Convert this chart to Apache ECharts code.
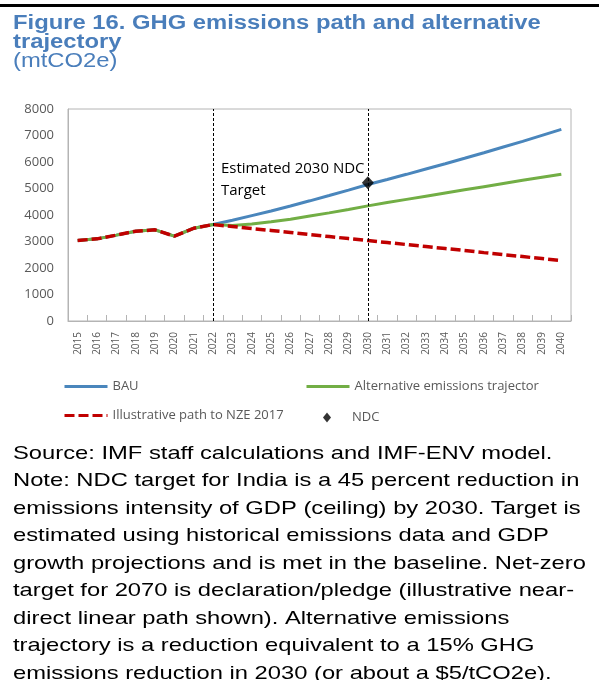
<!DOCTYPE html>
<html>
<head>
<meta charset="utf-8">
<title>GHG emissions path and alternative trajectory</title>
<script src="https://cdn.jsdelivr.net/npm/echarts@6/dist/echarts.min.js"></script>
<style>
  html, body { margin: 0; padding: 0; background: #fff; }
  #chart { width: 599px; height: 680px; }
</style>
</head>
<body>
<div id="chart"></div>
<script>
const years = ['2015', '2016', '2017', '2018', '2019', '2020', '2021', '2022', '2023', '2024', '2025', '2026', '2027',
  '2028', '2029', '2030', '2031', '2032', '2033', '2034', '2035', '2036', '2037', '2038', '2039', '2040']
const bauValues = [3040, 3100, 3240, 3390, 3440, 3200, 3500, 3640, 3800, 3975, 4150, 4340, 4535,
  4735, 4940, 5150, 5340, 5535, 5735, 5935, 6140, 6350, 6565, 6780, 7005, 7230]
const altValues = [3040, 3100, 3240, 3390, 3440, 3200, 3500, 3640, 3600, 3660, 3745, 3840, 3960,
  4080, 4210, 4345, 4470, 4590, 4710, 4830, 4950, 5070, 5190, 5310, 5425, 5540]
const nzeValues = [3040, 3100, 3240, 3390, 3440, 3200, 3500, 3640, 3565, 3490, 3415, 3340, 3260,
  3185, 3110, 3035, 2960, 2885, 2810, 2735, 2660, 2580, 2505, 2430, 2355, 2280]
const ndcPoint = ['2030', 5220]
const markYears = ['2022', '2030']
const yMin = 0
const yMax = 8000
const yStep = 1000

const titleLines = 'Figure 16. GHG emissions path and alternative\ntrajectory'
const unitText = '(mtCO2e)'
const noteText = [
  'Source: IMF staff calculations and IMF-ENV model.',
  'Note: NDC target for India is a 45 percent reduction in',
  'emissions intensity of GDP (ceiling) by 2030. Target is',
  'estimated using historical emissions data and GDP',
  'growth projections and is met in the baseline. Net-zero',
  'target for 2070 is declaration/pledge (illustrative near-',
  'direct linear path shown). Alternative emissions',
  'trajectory is a reduction equivalent to a 15% GHG',
  'emissions reduction in 2030 (or about a $5/tCO2e).'
].join('\n')

const labelFont = '"Open Sans", "DejaVu Sans", sans-serif'
const grey = '#595959'
const axisGrey = '#B4B4B4'

function genOption () {
  const legendCommon = {
    padding: 0,
    itemWidth: 43,
    itemHeight: 14,
    selectedMode: false,
    // hide the little circle that line series put in the middle of the icon
    itemStyle: { opacity: 0 },
    lineStyle: { width: 3 },
    textStyle: { fontFamily: labelFont, fontSize: 13, color: grey }
  }
  const option = {
    animation: false,
    backgroundColor: '#fff',
    grid: {
      left: 68,
      right: 28,
      top: 109,
      bottom: 359,
      show: true,
      borderColor: axisGrey,
      borderWidth: 1,
      containLabel: false,
      outerBoundsMode: 'none'
    },
    legend: [
      Object.assign({}, legendCommon, { data: ['BAU'], left: 63, top: 380 }),
      Object.assign({}, legendCommon, { data: ['Alternative emissions trajector'], left: 305, top: 380 }),
      Object.assign({}, legendCommon, { data: ['Illustrative path to NZE 2017'], left: 63, top: 409 }),
      {
        data: ['NDC'],
        left: 323,
        top: 411,
        padding: 0,
        itemWidth: 8,
        itemHeight: 10,
        selectedMode: false,
        textStyle: { fontFamily: labelFont, fontSize: 13, color: grey, padding: [0, 0, 0, 16] }
      }
    ],
    xAxis: {
      type: 'category',
      data: years,
      boundaryGap: true,
      axisLine: { show: true, lineStyle: { color: axisGrey, width: 1 } },
      axisTick: { show: true, inside: true, length: 6, alignWithLabel: false, lineStyle: { color: axisGrey } },
      axisLabel: {
        interval: 0,
        rotate: 90,
        margin: 11,
        color: grey,
        fontFamily: labelFont,
        fontSize: 10
      },
      splitLine: { show: false }
    },
    yAxis: {
      type: 'value',
      min: yMin,
      max: yMax,
      interval: yStep,
      axisLine: { show: true, lineStyle: { color: axisGrey, width: 1 } },
      axisTick: { show: false },
      axisLabel: {
        margin: 14,
        color: grey,
        fontFamily: labelFont,
        fontSize: 13,
        formatter: function (v) { return String(v) }
      },
      splitLine: { show: false }
    },
    series: [
      {
        name: 'BAU',
        type: 'line',
        data: bauValues,
        symbol: 'none',
        lineStyle: { color: '#4A86BC', width: 3 },
        itemStyle: { color: '#4A86BC' },
        emphasis: { disabled: true },
        markLine: {
          silent: true,
          symbol: 'none',
          label: { show: false },
          lineStyle: { color: '#000', width: 1, type: [3, 2] },
          data: markYears.map(function (y) { return { xAxis: y } })
        }
      },
      {
        name: 'Alternative emissions trajector',
        type: 'line',
        data: altValues,
        symbol: 'none',
        lineStyle: { color: '#72AE45', width: 3 },
        itemStyle: { color: '#72AE45' },
        emphasis: { disabled: true }
      },
      {
        name: 'Illustrative path to NZE 2017',
        type: 'line',
        data: nzeValues,
        symbol: 'none',
        lineStyle: { color: '#C00000', width: 3.5, type: [10, 4] },
        itemStyle: { color: '#C00000' },
        emphasis: { disabled: true }
      },
      {
        name: 'NDC',
        type: 'scatter',
        data: [ndcPoint],
        symbol: 'diamond',
        symbolSize: [12, 13],
        itemStyle: { color: '#000' },
        z: 5,
        emphasis: { disabled: true }
      }
    ],
    graphic: [
      {
        type: 'rect',
        shape: { x: 0, y: 4, width: 599, height: 3 },
        style: { fill: '#000' }
      },
      {
        type: 'text',
        x: 13,
        y: 14,
        scaleX: 1.19,
        style: {
          text: titleLines,
          font: 'bold 20px "Liberation Sans", Arial, sans-serif',
          fill: '#4A7EBB',
          lineHeight: 19,
          align: 'left',
          verticalAlign: 'top'
        }
      },
      {
        type: 'text',
        x: 13,
        y: 52,
        scaleX: 1.19,
        style: {
          text: unitText,
          font: '20px "Liberation Sans", Arial, sans-serif',
          fill: '#4A7EBB',
          lineHeight: 19,
          align: 'left',
          verticalAlign: 'top'
        }
      },
      {
        type: 'text',
        x: 221,
        y: 158,
        style: {
          text: 'Estimated 2030 NDC\nTarget',
          font: '15px ' + labelFont,
          fill: '#000',
          lineHeight: 22,
          align: 'left',
          verticalAlign: 'top'
        }
      },
      {
        type: 'text',
        x: 13,
        y: 440,
        scaleX: 1.25,
        style: {
          text: noteText,
          font: '19px "Liberation Sans", Arial, sans-serif',
          fill: '#000',
          lineHeight: 27.5,
          align: 'left',
          verticalAlign: 'top'
        }
      }
    ]
  }
  return option
}

const chart = echarts.init(document.getElementById('chart'), null, { renderer: 'canvas' })
chart.setOption(genOption())
</script>
</body>
</html>
